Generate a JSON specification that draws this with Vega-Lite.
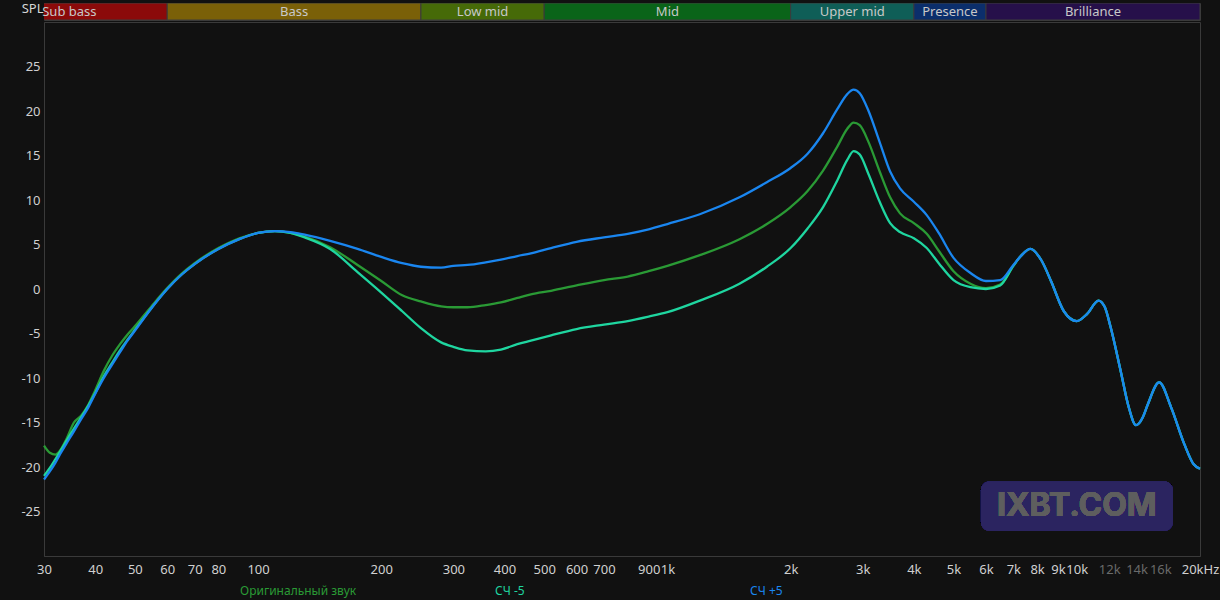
{
  "$schema": "https://vega.github.io/schema/vega-lite/v6.json",
  "background": "#111111",
  "padding": {"left": 5, "top": 1, "right": 0, "bottom": 24},
  "spacing": 0,
  "config": {
    "font": "Noto Sans",
    "view": {"stroke": "#3a3a3a"},
    "concat": {"spacing": 0}
  },
  "datasets": {
    "bands": [
      {"band": "Sub bass", "lo": 20, "hi": 60, "mid": 34.6},
      {"band": "Bass", "lo": 60, "hi": 250, "mid": 122.5},
      {"band": "Low mid", "lo": 250, "hi": 500, "mid": 353.6},
      {"band": "Mid", "lo": 500, "hi": 2000, "mid": 1000},
      {"band": "Upper mid", "lo": 2000, "hi": 4000, "mid": 2828},
      {"band": "Presence", "lo": 4000, "hi": 6000, "mid": 4899},
      {"band": "Brilliance", "lo": 6000, "hi": 20000, "mid": 10954}
    ],
    "fr": [
      {"f": 30, "Оригинальный звук": -17.6, "СЧ -5": -21.0, "СЧ +5": -21.4},
      {"f": 31, "Оригинальный звук": -18.4, "СЧ -5": -20.1, "СЧ +5": -20.5},
      {"f": 32, "Оригинальный звук": -18.6, "СЧ -5": -19.1, "СЧ +5": -19.5},
      {"f": 33, "Оригинальный звук": -18.0, "СЧ -5": -18.1, "СЧ +5": -18.4},
      {"f": 34, "Оригинальный звук": -16.9, "СЧ -5": -17.1, "СЧ +5": -17.4},
      {"f": 35.5, "Оригинальный звук": -15.0, "СЧ -5": -15.7, "СЧ +5": -16.0},
      {"f": 37, "Оригинальный звук": -14.2, "СЧ -5": -14.4, "СЧ +5": -14.6},
      {"f": 38.5, "Оригинальный звук": -13.0, "СЧ -5": -13.1, "СЧ +5": -13.3},
      {"f": 40, "Оригинальный звук": -11.4, "СЧ -5": -11.7, "СЧ +5": -11.8},
      {"f": 42, "Оригинальный звук": -9.2, "СЧ -5": -9.8, "СЧ +5": -10.0},
      {"f": 44, "Оригинальный звук": -7.5, "СЧ -5": -8.3, "СЧ +5": -8.5},
      {"f": 46, "Оригинальный звук": -6.2, "СЧ -5": -6.9, "СЧ +5": -7.1},
      {"f": 48, "Оригинальный звук": -5.1, "СЧ -5": -5.7, "СЧ +5": -5.8},
      {"f": 50, "Оригинальный звук": -4.2, "СЧ -5": -4.6, "СЧ +5": -4.7},
      {"f": 55, "Оригинальный звук": -1.9, "СЧ -5": -2.1, "СЧ +5": -2.1},
      {"f": 60, "Оригинальный звук": 0.1, "СЧ -5": 0.0, "СЧ +5": 0.0},
      {"f": 65, "Оригинальный звук": 1.7, "СЧ -5": 1.6, "СЧ +5": 1.6},
      {"f": 70, "Оригинальный звук": 2.9, "СЧ -5": 2.8, "СЧ +5": 2.8},
      {"f": 80, "Оригинальный звук": 4.6, "СЧ -5": 4.5, "СЧ +5": 4.5},
      {"f": 90, "Оригинальный звук": 5.7, "СЧ -5": 5.6, "СЧ +5": 5.6},
      {"f": 100, "Оригинальный звук": 6.3, "СЧ -5": 6.3, "СЧ +5": 6.3},
      {"f": 110, "Оригинальный звук": 6.5, "СЧ -5": 6.5, "СЧ +5": 6.5},
      {"f": 120, "Оригинальный звук": 6.3, "СЧ -5": 6.3, "СЧ +5": 6.4},
      {"f": 130, "Оригинальный звук": 5.9, "СЧ -5": 5.8, "СЧ +5": 6.1},
      {"f": 150, "Оригинальный звук": 4.7, "СЧ -5": 4.5, "СЧ +5": 5.4},
      {"f": 175, "Оригинальный звук": 2.7, "СЧ -5": 1.9, "СЧ +5": 4.5},
      {"f": 200, "Оригинальный звук": 0.9, "СЧ -5": -0.4, "СЧ +5": 3.6},
      {"f": 225, "Оригинальный звук": -0.7, "СЧ -5": -2.5, "СЧ +5": 2.9},
      {"f": 250, "Оригинальный звук": -1.4, "СЧ -5": -4.4, "СЧ +5": 2.5},
      {"f": 280, "Оригинальный звук": -1.95, "СЧ -5": -6.0, "СЧ +5": 2.4},
      {"f": 300, "Оригинальный звук": -2.05, "СЧ -5": -6.5, "СЧ +5": 2.6},
      {"f": 325, "Оригинальный звук": -2.05, "СЧ -5": -6.9, "СЧ +5": 2.7},
      {"f": 360, "Оригинальный звук": -1.8, "СЧ -5": -7.0, "СЧ +5": 3.0},
      {"f": 392, "Оригинальный звук": -1.5, "СЧ -5": -6.8, "СЧ +5": 3.3},
      {"f": 430, "Оригинальный звук": -1.0, "СЧ -5": -6.2, "СЧ +5": 3.7},
      {"f": 464, "Оригинальный звук": -0.6, "СЧ -5": -5.8, "СЧ +5": 4.0},
      {"f": 520, "Оригинальный звук": -0.2, "СЧ -5": -5.2, "СЧ +5": 4.6},
      {"f": 600, "Оригинальный звук": 0.4, "СЧ -5": -4.5, "СЧ +5": 5.3},
      {"f": 700, "Оригинальный звук": 1.0, "СЧ -5": -4.0, "СЧ +5": 5.8},
      {"f": 800, "Оригинальный звук": 1.4, "СЧ -5": -3.6, "СЧ +5": 6.2},
      {"f": 900, "Оригинальный звук": 2.0, "СЧ -5": -3.1, "СЧ +5": 6.7},
      {"f": 1000, "Оригинальный звук": 2.6, "СЧ -5": -2.6, "СЧ +5": 7.3},
      {"f": 1200, "Оригинальный звук": 3.8, "СЧ -5": -1.3, "СЧ +5": 8.4},
      {"f": 1500, "Оригинальный звук": 5.6, "СЧ -5": 0.6, "СЧ +5": 10.3},
      {"f": 1750, "Оригинальный звук": 7.3, "СЧ -5": 2.5, "СЧ +5": 12.0},
      {"f": 2000, "Оригинальный звук": 9.2, "СЧ -5": 4.6, "СЧ +5": 13.6},
      {"f": 2200, "Оригинальный звук": 11.0, "СЧ -5": 6.8, "СЧ +5": 15.2},
      {"f": 2400, "Оригинальный звук": 13.3, "СЧ -5": 9.2, "СЧ +5": 17.5},
      {"f": 2600, "Оригинальный звук": 16.0, "СЧ -5": 12.2, "СЧ +5": 20.2},
      {"f": 2750, "Оригинальный звук": 18.0, "СЧ -5": 14.5, "СЧ +5": 21.9},
      {"f": 2850, "Оригинальный звук": 18.7, "СЧ -5": 15.5, "СЧ +5": 22.4},
      {"f": 2950, "Оригинальный звук": 18.4, "СЧ -5": 15.1, "СЧ +5": 22.0},
      {"f": 3100, "Оригинальный звук": 16.5, "СЧ -5": 12.9, "СЧ +5": 20.0},
      {"f": 3300, "Оригинальный звук": 13.2, "СЧ -5": 9.8, "СЧ +5": 16.5},
      {"f": 3500, "Оригинальный звук": 10.3, "СЧ -5": 7.4, "СЧ +5": 13.2},
      {"f": 3700, "Оригинальный звук": 8.5, "СЧ -5": 6.4, "СЧ +5": 11.3},
      {"f": 4000, "Оригинальный звук": 7.4, "СЧ -5": 5.7, "СЧ +5": 9.8},
      {"f": 4300, "Оригинальный звук": 6.2, "СЧ -5": 4.6, "СЧ +5": 8.3},
      {"f": 4600, "Оригинальный звук": 4.3, "СЧ -5": 2.9, "СЧ +5": 6.3},
      {"f": 5000, "Оригинальный звук": 2.0, "СЧ -5": 1.0, "СЧ +5": 3.5},
      {"f": 5500, "Оригинальный звук": 0.6, "СЧ -5": 0.2, "СЧ +5": 1.8},
      {"f": 6000, "Оригинальный звук": 0.1, "СЧ -5": 0.0, "СЧ +5": 0.9},
      {"f": 6500, "Оригинальный звук": 0.5, "СЧ -5": 0.4, "СЧ +5": 1.0},
      {"f": 7000, "Оригинальный звук": 2.6, "СЧ -5": 2.6, "СЧ +5": 2.7},
      {"f": 7300, "Оригинальный звук": 3.7, "СЧ -5": 3.7, "СЧ +5": 3.7},
      {"f": 7700, "Оригинальный звук": 4.5, "СЧ -5": 4.5, "СЧ +5": 4.5},
      {"f": 8200, "Оригинальный звук": 3.2, "СЧ -5": 3.2, "СЧ +5": 3.2},
      {"f": 8650, "Оригинальный звук": 0.9, "СЧ -5": 0.9, "СЧ +5": 0.9},
      {"f": 9300, "Оригинальный звук": -2.5, "СЧ -5": -2.5, "СЧ +5": -2.5},
      {"f": 10000, "Оригинальный звук": -3.6, "СЧ -5": -3.6, "СЧ +5": -3.6},
      {"f": 10600, "Оригинальный звук": -2.8, "СЧ -5": -2.8, "СЧ +5": -2.8},
      {"f": 11300, "Оригинальный звук": -1.3, "СЧ -5": -1.3, "СЧ +5": -1.3},
      {"f": 11700, "Оригинальный звук": -2.0, "СЧ -5": -2.0, "СЧ +5": -2.0},
      {"f": 12100, "Оригинальный звук": -4.3, "СЧ -5": -4.3, "СЧ +5": -4.3},
      {"f": 12800, "Оригинальный звук": -9.2, "СЧ -5": -9.2, "СЧ +5": -9.2},
      {"f": 13400, "Оригинальный звук": -13.3, "СЧ -5": -13.3, "СЧ +5": -13.3},
      {"f": 13950, "Оригинальный звук": -15.3, "СЧ -5": -15.3, "СЧ +5": -15.3},
      {"f": 14500, "Оригинальный звук": -14.4, "СЧ -5": -14.4, "СЧ +5": -14.4},
      {"f": 14900, "Оригинальный звук": -13.0, "СЧ -5": -13.0, "СЧ +5": -13.0},
      {"f": 15900, "Оригинальный звук": -10.5, "СЧ -5": -10.5, "СЧ +5": -10.5},
      {"f": 17000, "Оригинальный звук": -13.3, "СЧ -5": -13.3, "СЧ +5": -13.3},
      {"f": 18300, "Оригинальный звук": -17.4, "СЧ -5": -17.4, "СЧ +5": -17.4},
      {"f": 19300, "Оригинальный звук": -19.7, "СЧ -5": -19.7, "СЧ +5": -19.7},
      {"f": 20000, "Оригинальный звук": -20.2, "СЧ -5": -20.2, "СЧ +5": -20.2}
    ]
  },
  "vconcat": [
    {
      "width": 1156,
      "height": 17,
      "data": {"name": "bands"},
      "layer": [
        {
          "mark": {"type": "rect", "clip": true, "stroke": "#3c3c3c", "strokeWidth": 1},
          "encoding": {
            "x": {"field": "lo", "type": "quantitative", "scale": {"type": "log", "domain": [30, 20000], "nice": false}, "axis": null},
            "x2": {"field": "hi"},
            "y": {"datum": 0, "type": "quantitative", "scale": {"domain": [0, 1], "nice": false},
              "axis": {"title": "SPL", "titleAngle": 0, "titleAlign": "right", "titleBaseline": "middle", "titleX": -1, "titleY": 5,
                "titleFontSize": 13, "titleFontWeight": "normal", "titleColor": "#d6d6d6",
                "labels": false, "ticks": false, "domain": false, "grid": false, "minExtent": 38, "maxExtent": 38}},
            "y2": {"datum": 1},
            "fill": {"field": "band", "type": "nominal", "legend": null,
              "scale": {"domain": ["Sub bass", "Bass", "Low mid", "Mid", "Upper mid", "Presence", "Brilliance"],
                "range": ["#8b0a0a", "#7a6008", "#466a08", "#0a6419", "#0f5e57", "#0b2e6b", "#26104a"]}}
          }
        },
        {
          "mark": {"type": "text", "fontSize": 13, "color": "#c8c8c8", "baseline": "middle", "align": "center"},
          "encoding": {
            "x": {"field": "mid", "type": "quantitative"},
            "y": {"datum": 0.5, "type": "quantitative"},
            "text": {"field": "band"}
          }
        }
      ]
    },
    {
      "width": 1156,
      "height": 534,
      "data": {"name": "fr"},
      "encoding": {
        "x": {"type": "quantitative",
          "scale": {"type": "log", "domain": [30, 20000], "nice": false},
          "axis": {"title": null, "ticks": false, "domainColor": "#3a3a3a", "labelFontSize": 13, "labelPadding": 7,
            "values": [30, 40, 50, 60, 70, 80, 90, 100, 200, 300, 400, 500, 600, 700, 800, 900, 1000, 2000, 3000, 4000, 5000, 6000, 7000, 8000, 9000, 10000, 12000, 14000, 16000, 20000],
            "labelExpr": "datum.value==90||datum.value==800 ? '' : datum.value==20000 ? '20kHz' : datum.value>=1000 ? (datum.value/1000)+'k' : ''+datum.value",
            "labelOverlap": false, "labelFlush": false, "labelBound": false,
            "labelColor": {"condition": {"test": "datum.value>=12000 && datum.value<=16000", "value": "#6a6a6a"}, "value": "#d0d0d0"},
            "gridColor": {"condition": {"test": "datum.value==100||datum.value==1000||datum.value==10000", "value": "#333333"}, "value": "#1f1f1f"}}},
        "y": {"type": "quantitative",
          "scale": {"domain": [-30, 30], "nice": false},
          "axis": {"title": null, "ticks": false, "domainColor": "#3a3a3a", "labelFontSize": 13, "labelPadding": 4,
            "minExtent": 38, "maxExtent": 38, "labelColor": "#d0d0d0",
            "values": [-27.5, -25, -22.5, -20, -17.5, -15, -12.5, -10, -7.5, -5, -2.5, 0, 2.5, 5, 7.5, 10, 12.5, 15, 17.5, 20, 22.5, 25, 27.5],
            "labelExpr": "datum.value % 5 == 0 ? ''+datum.value : ''",
            "gridColor": {"condition": {"test": "datum.value % 5 == 0", "value": "#2c2c2c"}, "value": "#1c1c1c"}}}
      },
      "layer": [
        {
          "mark": {"type": "rect", "fill": "#2b2460", "opacity": 0.85, "cornerRadius": 9},
          "encoding": {
            "x": {"datum": 5833}, "x2": {"datum": 17170},
            "y": {"datum": -21.6}, "y2": {"datum": -27.2}
          }
        },
        {
          "mark": {"type": "text", "text": "IXBT.COM", "font": "Inter", "fontSize": 32, "fontWeight": "bold", "color": "#5e5e5e", "align": "center", "baseline": "middle"},
          "encoding": {
            "x": {"datum": 10000},
            "y": {"datum": -24.4}
          }
        },
        {
          "transform": [{"fold": ["Оригинальный звук", "СЧ -5", "СЧ +5"], "as": ["series", "db"]}],
          "mark": {"type": "line", "strokeWidth": 2.3, "interpolate": "monotone"},
          "encoding": {
            "x": {"field": "f", "type": "quantitative"},
            "y": {"field": "db", "type": "quantitative"},
            "color": {"field": "series", "type": "nominal",
              "scale": {"domain": ["Оригинальный звук", "СЧ -5", "СЧ +5"], "range": ["#2a9a35", "#1fd6a0", "#1a86f0"]},
              "legend": {"orient": "none", "legendX": 184, "legendY": 582, "direction": "horizontal", "columns": 3, "gridAlign": "all",
                "columnPadding": 126, "symbolSize": 0, "symbolOpacity": 0, "symbolStrokeWidth": 0, "labelOffset": 0,
                "labelFontSize": 12, "title": null, "padding": 0,
                "labelColor": {"expr": "scale('color', datum.value)"}}}
          }
        }
      ]
    }
  ]
}
